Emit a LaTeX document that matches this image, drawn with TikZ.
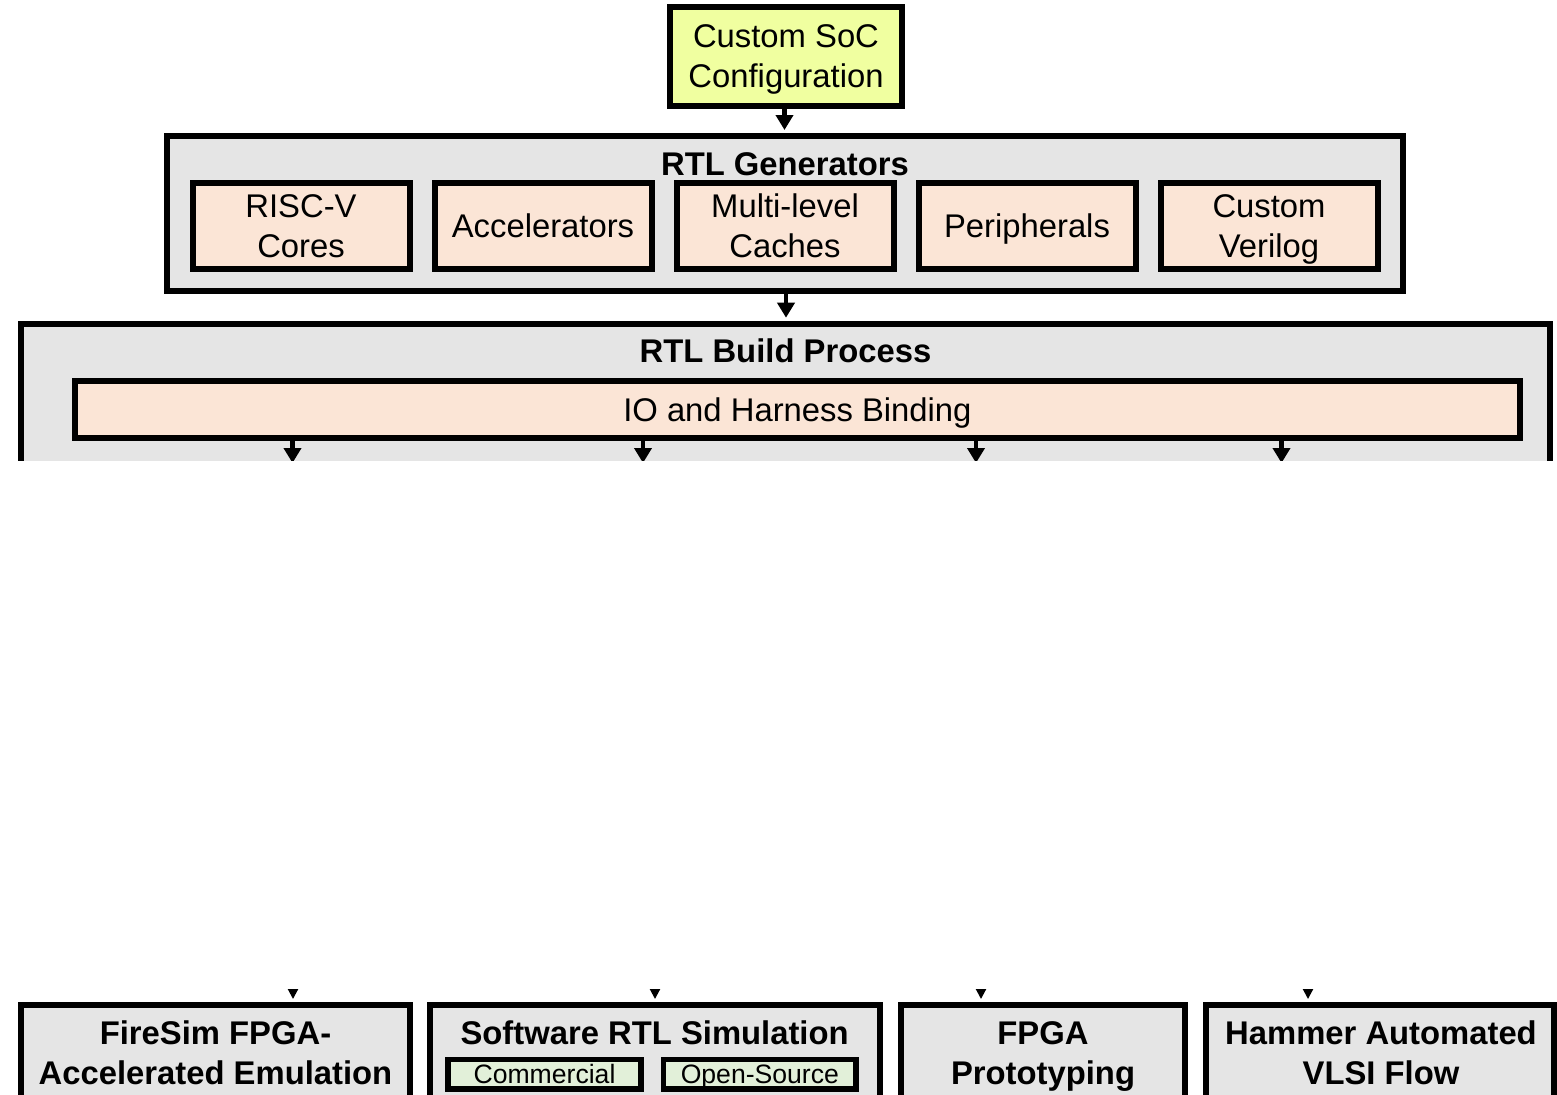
\documentclass[tikz,border=0pt]{standalone}
\usepackage{fontspec}
\setmainfont{Liberation Sans}
\usetikzlibrary{arrows.meta}
\definecolor{socfill}{RGB}{240,255,160}
\definecolor{peach}{RGB}{251,229,214}
\definecolor{boxgray}{RGB}{229,229,229}
\definecolor{lgreen}{RGB}{226,240,217}
\begin{document}
\begin{tikzpicture}[x=0.5pt,y=-0.5pt,
  box/.style={draw=black, line width=3pt, inner sep=0pt, align=center, text depth=0pt,
    font=\fontsize{16.4}{20}\selectfont},
  socbox/.style={box, fill=socfill, minimum width=116pt, minimum height=49.5pt},
  genbox/.style={box, fill=peach, minimum width=108.5pt, minimum height=42.75pt},
  group/.style={draw=black, line width=3pt, fill=boxgray, inner sep=0pt},
  grptitle/.style={inner sep=0pt, align=center, text depth=0pt, font=\fontsize{16.4}{20}\selectfont\bfseries},
  simbox/.style={draw=black, line width=2.75pt, fill=lgreen, inner sep=0pt, text depth=0pt,
    minimum height=14.75pt, font=\fontsize{13.3}{15}\selectfont},
  arr/.style={line width=2.25pt, -{Triangle[width=8.5pt,length=7.5pt]}},
  smallarr/.style={line width=1pt, -{Triangle[width=5pt,length=5pt]}}
]
\clip (0,0) rectangle (1557,1094);

% ---------- top part ----------
\begin{scope}
\clip (0,0) rectangle (1557,460);
\node[socbox] (soc) at (786,56.5) {Custom SoC\\Configuration};

\node[group, minimum width=618pt, minimum height=77.25pt] (gen) at (784.5,213.25) {};
\node[grptitle] (gentitle) at (785,164) {RTL Generators};
\node[genbox] (g1) at (301,226) {RISC-V\\Cores};
\node[genbox] (g2) at (543,226) {Accelerators};
\node[genbox] (g3) at (785,226) {Multi-level\\Caches};
\node[genbox] (g4) at (1027,226) {Peripherals};
\node[genbox] (g5) at (1269,226) {Custom\\Verilog};

\node[group, minimum width=764.5pt, minimum height=78.15pt] (build) at (785.5,401.85) {};
\node[grptitle] (buildtitle) at (785.5,351) {RTL Build Process};
\node[box, fill=peach, minimum width=722.9pt, minimum height=28.5pt] (io) at (797.4,409.8) {IO and Harness Binding};

\draw[arr, shorten >=1.5pt] (soc.south -| gen.north) -- (gen.north);
\draw[arr, shorten >=1.5pt] (gen.south -| 786,0) -- (build.north -| 786,0);

\coordinate (t1) at (292.5,463);
\coordinate (t2) at (643,463);
\coordinate (t3) at (976,463);
\coordinate (t4) at (1281.5,463);
\foreach \t in {t1,t2,t3,t4}
  \draw[arr] (io.south -| \t) -- (\t);
\end{scope}

% ---------- bottom part ----------
\node[group, minimum width=194.5pt, minimum height=62.5pt] (firesim) at (215.5,1067.5) {};
\node[grptitle] (firesimt) at (215.5,1053) {FireSim FPGA-\\Accelerated Emulation};

\node[group, minimum width=225.1pt, minimum height=62.5pt] (swsim) at (654.6,1067.5) {};
\node[grptitle] (swsimt) at (654.6,1033) {Software RTL Simulation};
\node[simbox, minimum width=96.5pt] (comm) at (544.5,1074.25) {Commercial};
\node[simbox, minimum width=96.15pt] (open) at (759.85,1074.25) {Open-Source};

\node[group, minimum width=142pt, minimum height=62.5pt] (fpga) at (1043,1067.5) {};
\node[grptitle] (fpgat) at (1043,1053) {FPGA\\Prototyping};

\node[group, minimum width=174pt, minimum height=62.5pt] (hammer) at (1380,1067.5) {};
\node[grptitle] (hammert) at (1381,1053) {Hammer Automated\\VLSI Flow};

\coordinate (b1) at (293,990);
\coordinate (b2) at (655,990);
\coordinate (b3) at (981,990);
\coordinate (b4) at (1308,990);
\draw[smallarr, shorten >=1.5pt] (b1) -- (firesim.north -| b1);
\draw[smallarr, shorten >=1.5pt] (b2) -- (swsim.north -| b2);
\draw[smallarr, shorten >=1.5pt] (b3) -- (fpga.north -| b3);
\draw[smallarr, shorten >=1.5pt] (b4) -- (hammer.north -| b4);
\end{tikzpicture}
\end{document}
